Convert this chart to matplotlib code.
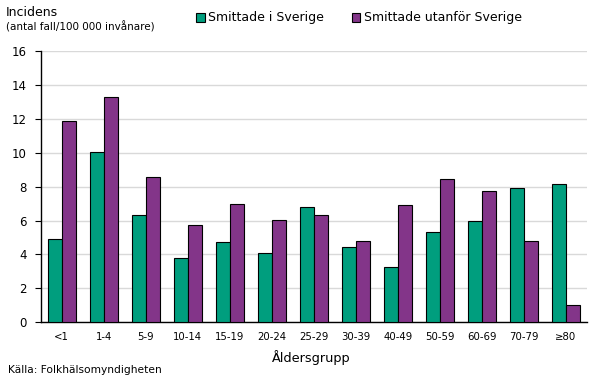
import matplotlib
matplotlib.use("Agg")
import matplotlib.pyplot as plt
import numpy as np

categories = ["<1", "1-4", "5-9", "10-14", "15-19", "20-24", "25-29",
              "30-39", "40-49", "50-59", "60-69", "70-79", "≥80"]
smittade_sverige = [4.92, 10.06, 6.35, 3.82, 4.76, 4.06, 6.82,
                    4.47, 3.29, 5.35, 6.0, 7.94, 8.18]
smittade_utanfor = [11.88, 13.31, 8.59, 5.71, 7.0, 6.06, 6.35,
                    4.82, 6.94, 8.47, 7.76, 4.82, 1.0]
yticks = [0, 2, 4, 6, 8, 10, 12, 14, 16]

green = "#009E7E"
purple = "#833589"

plt.rcParams['font.family'] = ['DejaVu Sans']
W, H = 606, 379
fig = plt.figure(figsize=(W/100, H/100), dpi=100)
ax = fig.add_axes([40.7/W, 1-322.3/H, (587-40.7)/W, (322.3-51)/H])

x = np.arange(len(categories))
bw = 1/3
ax.bar(x - bw/2, smittade_sverige, bw, color=green, edgecolor="black", linewidth=0.8,
       label="Smittade i Sverige", zorder=3)
ax.bar(x + bw/2, smittade_utanfor, bw, color=purple, edgecolor="black", linewidth=0.8,
       label="Smittade utanför Sverige", zorder=3)

ax.set_xlim(-0.5, len(categories) - 0.5)
ax.set_ylim(0, 16)
ax.set_yticks(yticks)
ax.set_yticklabels([str(v) for v in yticks], fontsize=8.5)
ax.set_xticks(x)
ax.set_xticklabels(categories, fontsize=7.3)
ax.tick_params(axis='x', length=0, pad=7)
ax.tick_params(axis='y', length=4, width=0.8, direction='out', pad=6)
ax.yaxis.grid(True, color="#D9D9D9", linewidth=1, zorder=0)
ax.set_axisbelow(True)
for s in ["top", "right"]:
    ax.spines[s].set_visible(False)
ax.spines["left"].set_linewidth(1)
ax.spines["bottom"].set_linewidth(1)

fig.text(6/W, 1-12/H, "Incidens", fontsize=9, va="center", ha="left")
fig.text(6/W, 1-27/H, "(antal fall/100 000 invånare)", fontsize=7.5, va="center", ha="left")
fig.text(311/W, 1-358/H, "Åldersgrupp", fontsize=9.3, va="center", ha="center")
fig.text(8/W, 1-370/H, "Källa: Folkhälsomyndigheten", fontsize=7.7, va="center", ha="left")

leg = fig.legend(loc="center", bbox_to_anchor=(359/W, 1-18/H), ncol=2, frameon=False,
                 fontsize=9, handlelength=0.7, handleheight=0.7, handletextpad=0.3,
                 columnspacing=2.2)

fig.savefig("out.png", dpi=100)
